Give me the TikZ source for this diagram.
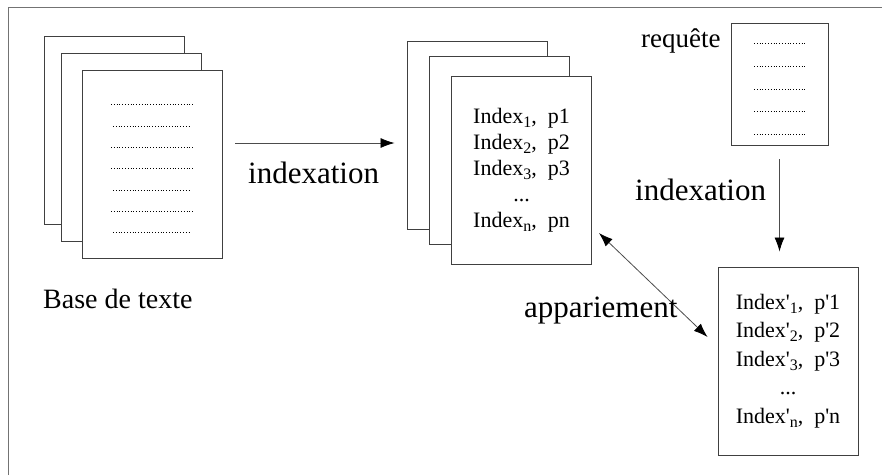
\documentclass[tikz,border=0pt]{standalone}
\usepackage{fontspec}
\setmainfont{Liberation Serif}
\usetikzlibrary{arrows.meta,calc}
\definecolor{framegray}{gray}{0.45}
\definecolor{pagegray}{gray}{0.25}
\definecolor{arrgray}{gray}{0.3}
\newcommand\sbx[1]{\raisebox{-0.4ex}{\fontsize{16}{16}\selectfont #1}}
\newcommand\qs{\textquotesingle}
\begin{document}
\begin{tikzpicture}[x=1pt,y=-1pt,
  page/.style={draw=pagegray, fill=white, line width=0.9pt, rectangle, inner sep=0pt,
    minimum width=140pt, minimum height=188pt},
  dotline/.style={line width=1pt, dash pattern=on 1pt off 1.8pt},
  tipstyle/.style={},
  arr/.style={draw=arrgray, line width=0.8pt, -{Latex[length=14pt,width=10pt,color=black]}},
  dblarr/.style={draw=arrgray, line width=0.8pt, {Latex[length=14pt,width=10pt,color=black]}-{Latex[length=14pt,width=10pt,color=black]}},
  lbl/.style={font=\fontsize{31}{31}\selectfont, inner sep=0pt, anchor=base west},
  idx/.style={align=center, font=\fontsize{22}{26}\selectfont}]
\useasboundingbox (0,0) rectangle (882,475);
\draw[framegray, line width=1pt] (8,475) -- (8,7) -- (882,7);

% left stack
\node[page] (lb) at (114,130.5) {};
\node[page] (lm) at (131.5,147) {};
\node[page] (lf) at (152,164) {};
\foreach \yy/\xa/\xb in {104/111/193,126/113/190,147/111/193,168/111/193,190/113/190,211/111/193,232/113/190}
  \draw[dotline] (\xa,\yy) -- (\xb,\yy);
\node[lbl, font=\fontsize{28}{28}\selectfont] (base) at (43,308) {Base de texte};

% middle stack
\node[page] (mb) at (477,135) {};
\node[page] (mm) at (499,150.5) {};
\node[page, idx] (mf) at (521.5,170) {Index\sbx{1},\ \ p1\\Index\sbx{2},\ \ p2\\Index\sbx{3},\ \ p3\\...\\Index\sbx{n},\ \ pn};

% requete
\node[draw=pagegray, fill=white, line width=0.9pt, inner sep=0pt, minimum width=97pt, minimum height=122pt] (rq) at (779.5,84) {};
\foreach \yy in {43,66,89,111,134}
  \draw[dotline] (754,\yy) -- (806,\yy);
\node[lbl, font=\fontsize{27}{27}\selectfont] (rqt) at (641,47) {requête};

% result
\node[page, idx, font=\fontsize{22}{28.5}\selectfont] (res) at (788,361) {Index\qs\sbx{1},\ \ p\qs 1\\Index\qs\sbx{2},\ \ p\qs 2\\Index\qs\sbx{3},\ \ p\qs 3\\...\\Index\qs\sbx{n},\ \ p\qs n};

% arrows
\draw[arr] ([xshift=13pt,yshift=21pt]lf.east) -- ([xshift=-12pt,yshift=-8pt]mb.west);
\node[lbl] (ix1) at (248,183) {indexation};
\draw[arr] ([yshift=-14pt]rq.south) -- ([yshift=15pt]rq.south |- res.north);
\node[lbl] (ix2) at (635,200) {indexation};
\draw[dblarr] ([xshift=7pt,yshift=-63pt]mf.east) -- ([xshift=-10pt,yshift=24pt]res.west);
\node[lbl] (app) at (524,317) {appariement};
\end{tikzpicture}
\end{document}
